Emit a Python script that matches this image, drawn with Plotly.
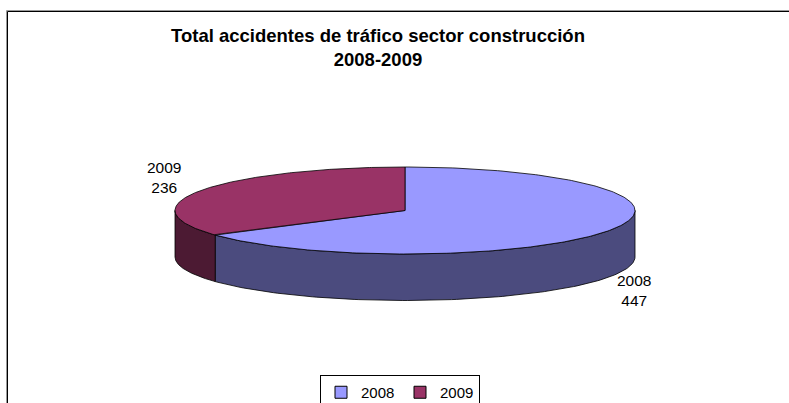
import numpy as np
import plotly.graph_objects as go

# ---- data ----
categories = ["2008", "2009"]
values = [447, 236]
top_colors = ["#9999FF", "#993366"]
side_colors = ["#4B4B7E", "#4C1A33"]
title_text = "<b>Total accidentes de tráfico sector construcción<br>2008-2009</b>"

# ---- layout constants (pixel space) ----
W, H = 789, 403
cx, cy, rx, ry, depth = 405, 210.5, 230, 43.5, 46.5
FONT = "Liberation Sans, Arial, sans-serif"


def ellipse(theta, dy=0.0):
    t = np.radians(theta)
    return cx + rx * np.sin(t), cy - ry * np.cos(t) + dy


total = sum(values)
spans = [360.0 * v / total for v in values]
starts = np.concatenate([[0.0], np.cumsum(spans)[:-1]])

fig = go.Figure()

# side walls (front half only: 90..270 deg clockwise from top)
for cat, s, sp, col in zip(categories, starts, spans, side_colors):
    a, b = max(s, 90.0), min(s + sp, 270.0)
    if b <= a:
        continue
    th = np.linspace(a, b, 120)
    xt, yt = ellipse(th)
    xb, yb = ellipse(th[::-1], depth)
    xs = np.concatenate([xt, xb, xt[:1]])
    ys = np.concatenate([yt, yb, yt[:1]])
    fig.add_trace(go.Scatter(x=xs, y=ys, mode="lines", fill="toself",
                             fillcolor=col, line=dict(color="black", width=0.8),
                             showlegend=False, hoverinfo="skip"))

# top faces
for cat, v, s, sp, col in zip(categories, values, starts, spans, top_colors):
    th = np.linspace(s, s + sp, 240)
    xa, ya = ellipse(th)
    xs = np.concatenate([[cx], xa, [cx]])
    ys = np.concatenate([[cy], ya, [cy]])
    fig.add_trace(go.Scatter(x=xs, y=ys, mode="lines", fill="toself",
                             fillcolor=col, line=dict(color="black", width=0.8),
                             showlegend=False, name=cat,
                             hovertemplate=f"{cat}: {v}<extra></extra>"))

# legend entries
for cat, col in zip(categories, top_colors):
    fig.add_trace(go.Scatter(x=[None], y=[None], mode="markers", name=cat,
                             marker=dict(symbol="square", size=12, color=col,
                                         line=dict(color="black", width=1))))

# data labels
label_pos = {"2008": (634, 290), "2009": (164, 177)}
for cat, v in zip(categories, values):
    lx, ly = label_pos[cat]
    fig.add_annotation(x=lx, y=ly, text=f"{cat}<br>{v}", showarrow=False,
                       font=dict(family=FONT, size=15.5, color="black"),
                       align="center", xanchor="center", yanchor="middle")

# title
fig.add_annotation(x=378, y=47, text=title_text, showarrow=False,
                   font=dict(family=FONT, size=18.5, color="black"),
                   align="center", xanchor="center", yanchor="middle")

# chart border
fig.add_shape(type="rect", x0=6.5, y0=10.5, x1=W + 10, y1=H + 10,
              line=dict(color="#999999", width=1))
fig.add_shape(type="rect", x0=7.5, y0=11.5, x1=W + 10, y1=H + 10,
              line=dict(color="black", width=1))

fig.update_layout(
    width=W, height=H,
    margin=dict(l=0, r=0, t=0, b=0, autoexpand=False),
    paper_bgcolor="white", plot_bgcolor="white",
    xaxis=dict(range=[0, W], visible=False, fixedrange=True),
    yaxis=dict(range=[H, 0], visible=False, fixedrange=True),
    showlegend=True,
    legend=dict(orientation="h", x=320 / W, y=1 - 375 / H,
                xanchor="left", yanchor="top",
                bordercolor="black", borderwidth=1, bgcolor="white",
                font=dict(family=FONT, size=15, color="black"),
                itemwidth=30, entrywidth=34, tracegroupgap=0),
    font=dict(family=FONT),
)

fig.write_html("out.html", config={"displayModeBar": False},
               post_script="document.body.style.margin='0';"
                           "document.body.style.overflow='hidden';")
